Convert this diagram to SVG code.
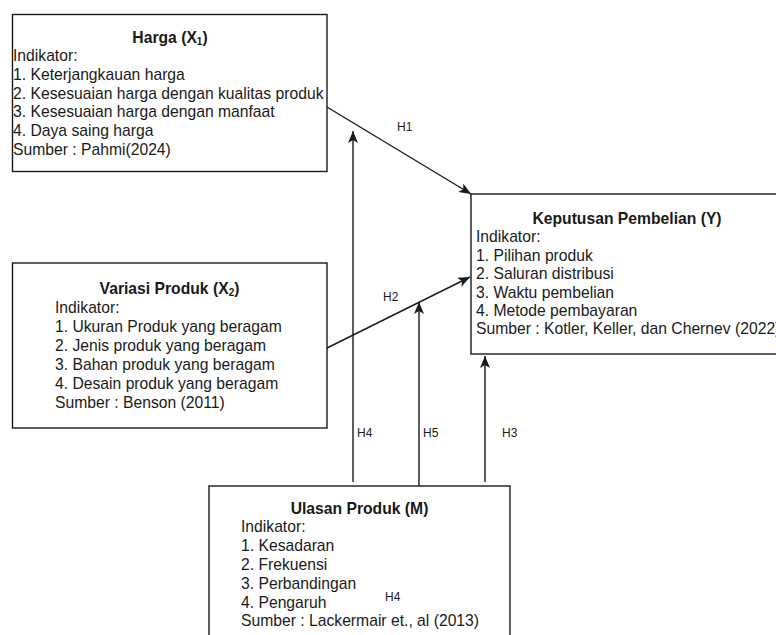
<svg xmlns="http://www.w3.org/2000/svg" width="776" height="635" viewBox="0 0 776 635">
  <defs>
    <marker id="arr" viewBox="0 0 12 10" refX="12" refY="5" markerWidth="12" markerHeight="10" markerUnits="userSpaceOnUse" orient="auto">
      <path d="M0,0 L12,5 L0,10 L3,5 Z" fill="#1a1a1a"/>
    </marker>
  </defs>
  <style>
    .box { fill: #ffffff; stroke: #1a1a1a; stroke-width: 1.4; }
    .t { font-family: "Liberation Sans", Arial, sans-serif; font-size: 15.7px; fill: #1a1a1a; }
    .title { font-weight: bold; text-anchor: middle; }
    .lbl { font-family: "Liberation Sans", Arial, sans-serif; font-size: 12px; fill: #1a1a1a; }
    .con { fill: none; stroke: #1a1a1a; stroke-width: 1.4; }
  </style>
  <rect width="776" height="635" fill="#ffffff"/>

  <g id="harga">
    <rect class="box" x="12.5" y="14.5" width="314.5" height="157"/>
    <text class="t title" x="170" y="42.5">Harga (X<tspan font-size="10" dy="2">1</tspan><tspan dy="-2">)</tspan></text>
    <text class="t" x="13" y="61.2">Indikator:</text>
    <text class="t" x="13" y="79.9">1. Keterjangkauan harga</text>
    <text class="t" x="13" y="98.6">2. Kesesuaian harga dengan kualitas produk</text>
    <text class="t" x="13" y="117.3">3. Kesesuaian harga dengan manfaat</text>
    <text class="t" x="13" y="136">4. Daya saing harga</text>
    <text class="t" x="13" y="154.7">Sumber : Pahmi(2024)</text>
  </g>

  <g id="keputusan">
    <rect class="box" x="471" y="194" width="320" height="160"/>
    <text class="t title" x="627" y="224">Keputusan Pembelian (Y)</text>
    <text class="t" x="476" y="242.4">Indikator:</text>
    <text class="t" x="476" y="260.8">1. Pilihan produk</text>
    <text class="t" x="476" y="279.2">2. Saluran distribusi</text>
    <text class="t" x="476" y="297.6">3. Waktu pembelian</text>
    <text class="t" x="476" y="316">4. Metode pembayaran</text>
    <text class="t" x="476" y="334.4">Sumber : Kotler, Keller, dan Chernev (2022)</text>
  </g>

  <g id="variasi">
    <rect class="box" x="12.5" y="263" width="314.5" height="165"/>
    <text class="t title" x="169.5" y="293.5">Variasi Produk (X<tspan font-size="10" dy="2">2</tspan><tspan dy="-2">)</tspan></text>
    <text class="t" x="55" y="312.5">Indikator:</text>
    <text class="t" x="55" y="331.5">1. Ukuran Produk yang beragam</text>
    <text class="t" x="55" y="350.5">2. Jenis produk yang beragam</text>
    <text class="t" x="55" y="369.5">3. Bahan produk yang beragam</text>
    <text class="t" x="55" y="388.5">4. Desain produk yang beragam</text>
    <text class="t" x="55" y="407.5">Sumber : Benson (2011)</text>
  </g>

  <g id="ulasan">
    <rect class="box" x="209" y="486" width="301" height="170"/>
    <text class="t title" x="359.5" y="513.5">Ulasan Produk (M)</text>
    <text class="t" x="241" y="532.3">Indikator:</text>
    <text class="t" x="241" y="551.1">1. Kesadaran</text>
    <text class="t" x="241" y="569.9">2. Frekuensi</text>
    <text class="t" x="241" y="588.7">3. Perbandingan</text>
    <text class="t" x="241" y="607.5">4. Pengaruh</text>
    <text class="t" x="241" y="626.3">Sumber : Lackermair et., al (2013)</text>
    <text class="lbl" x="385" y="601">H4</text>
  </g>

  <g id="connectors">
    <line class="con" x1="327" y1="107" x2="471" y2="194" marker-end="url(#arr)"/>
    <line class="con" x1="327" y1="348" x2="470" y2="277" marker-end="url(#arr)"/>
    <line class="con" x1="353" y1="482" x2="353" y2="131" marker-end="url(#arr)"/>
    <line class="con" x1="419" y1="486" x2="419" y2="302" marker-end="url(#arr)"/>
    <line class="con" x1="485" y1="482" x2="485" y2="356" marker-end="url(#arr)"/>
    <text class="lbl" x="397" y="131">H1</text>
    <text class="lbl" x="383" y="301">H2</text>
    <text class="lbl" x="357" y="437">H4</text>
    <text class="lbl" x="423" y="437">H5</text>
    <text class="lbl" x="502" y="437">H3</text>
  </g>
</svg>
